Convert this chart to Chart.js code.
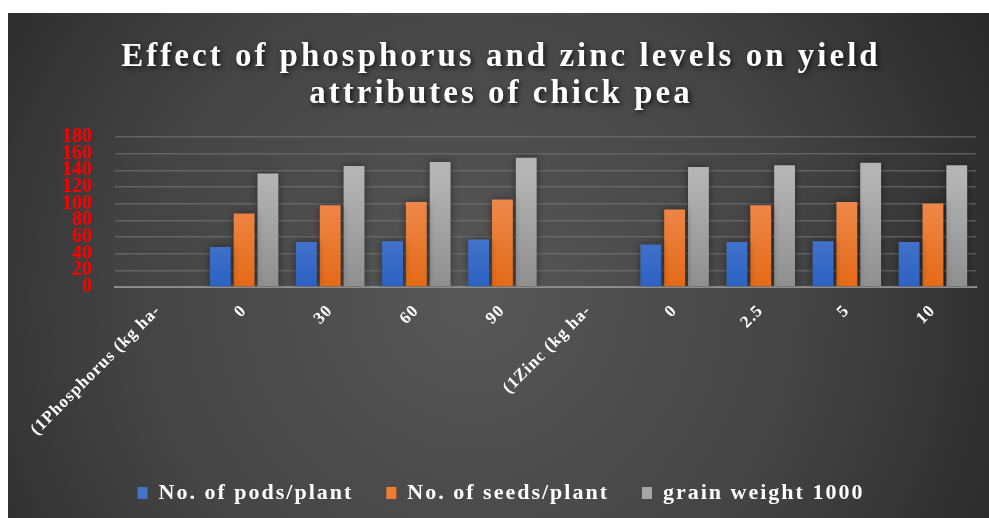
<!DOCTYPE html>
<html>
<head>
<meta charset="utf-8">
<script src="https://cdn.jsdelivr.net/npm/chart.js@4"></script>
<style>
html,body{margin:0;padding:0;background:#fff;}
#wrap{position:relative;width:989px;height:518px;}
</style>
</head>
<body>
<div id="wrap"><canvas id="c" width="989" height="518"></canvas></div>
<script>
const categories = ["(1Phosphorus (kg ha-", "0", "30", "60", "90", "(1Zinc (kg ha-", "0", "2.5", "5", "10"];
const podsPerPlant = [null, 48, 54, 55, 57, null, 51, 54, 55, 54];
const seedsPerPlant = [null, 88, 98, 102, 105, null, 93, 98, 102, 100];
const grainWeight1000 = [null, 136, 145, 150, 155, null, 144, 146, 149, 146];
const seriesNames = ["No. of pods/plant", "No. of seeds/plant", "grain weight 1000"];
const titleLines = ["Effect of phosphorus and zinc levels on yield", "attributes of chick pea"];

const SERIF = '"Liberation Serif", "Times New Roman", serif';

function grad(top, bottom) {
  return function (ctx) {
    const ch = ctx.chart;
    const a = ch.chartArea;
    if (!a) return bottom;
    const g = ch.ctx.createLinearGradient(0, a.top + 40, 0, a.bottom);
    g.addColorStop(0, top);
    g.addColorStop(1, bottom);
    return g;
  };
}

function patchDraw(chart, box, spacing, shadow) {
  if (!box || box._patched) return;
  const orig = box.draw.bind(box);
  box.draw = function (...args) {
    const cx = chart.ctx;
    cx.save();
    cx.letterSpacing = spacing;
    if (shadow) {
      cx.shadowColor = 'rgba(0,0,0,0.7)';
      cx.shadowBlur = 5;
      cx.shadowOffsetX = 2;
      cx.shadowOffsetY = 2;
    }
    orig(...args);
    cx.restore();
    cx.letterSpacing = '2px';
  };
  box._patched = true;
}

const bgPlugin = {
  id: 'bg',
  beforeUpdate(chart) {
    chart.ctx.letterSpacing = '2px';
  },
  beforeLayout(chart) {
    chart.ctx.letterSpacing = '2px';
    patchDraw(chart, chart.scales.x, '1px', false);
    patchDraw(chart, chart.scales.y, '0px', false);
  },
  beforeDraw(chart) {
    const c = chart.ctx;
    c.letterSpacing = '2px';
    patchDraw(chart, chart.titleBlock, '3px', true);
    c.save();
    const x0 = 8, y0 = 13, w = chart.width - 8, h = chart.height - 13;
    const g = c.createRadialGradient(470, 300, 10, 470, 300, 620);
    g.addColorStop(0, '#575757');
    g.addColorStop(0.55, '#434343');
    g.addColorStop(1, '#262626');
    c.fillStyle = g;
    c.fillRect(x0, y0, w, h);
    c.restore();
  }
};

const shadowPlugin = {
  id: 'barShadow',
  beforeDatasetsDraw(chart) {
    const c = chart.ctx;
    c.save();
    c.shadowColor = 'rgba(0,0,0,0.45)';
    c.shadowBlur = 8;
    c.shadowOffsetX = 0;
    c.shadowOffsetY = 0;
  },
  afterDatasetsDraw(chart) {
    chart.ctx.restore();
  }
};

new Chart(document.getElementById('c'), {
  type: 'bar',
  data: {
    labels: categories,
    datasets: [
      { label: seriesNames[0], data: podsPerPlant, backgroundColor: grad('#5f88d6', '#2d62c2') },
      { label: seriesNames[1], data: seedsPerPlant, backgroundColor: grad('#f29059', '#e46a16') },
      { label: seriesNames[2], data: grainWeight1000, backgroundColor: grad('#b4b4b4', '#8f8f8f') }
    ]
  },
  options: {
    responsive: false,
    animation: false,
    devicePixelRatio: 1,
    categoryPercentage: 0.83,
    barPercentage: 0.875,
    layout: { padding: { left: 26, right: 13, top: 22, bottom: 4 } },
    plugins: {
      title: {
        display: true,
        text: titleLines,
        color: '#ffffff',
        font: { family: SERIF, size: 33, weight: 'bold', lineHeight: 1.15 },
        padding: { top: 16, bottom: 23 }
      },
      legend: {
        position: 'bottom',
        labels: {
          color: '#ffffff',
          font: { family: SERIF, size: 22, weight: 'bold' },
          boxWidth: 10,
          boxHeight: 12,
          padding: 33,
          generateLabels(chart) {
            const cols = ['#4472c4', '#ed7d31', '#a5a5a5'];
            return chart.data.datasets.map((d, i) => ({
              text: d.label, fillStyle: cols[i], strokeStyle: cols[i], lineWidth: 0,
              fontColor: '#ffffff', datasetIndex: i, hidden: false
            }));
          }
        }
      },
      tooltip: { enabled: false }
    },
    scales: {
      x: {
        grid: { display: false, drawTicks: false },
        border: { display: true, color: '#9a9a9a', width: 2 },
        afterFit(s) { s.height = 162; },
        ticks: {
          color: '#ffffff',
          font: { family: SERIF, size: 17, weight: 'bold' },
          maxRotation: 45,
          minRotation: 45,
          padding: 14,
          autoSkip: false
        }
      },
      y: {
        min: 0,
        max: 180,
        grid: { color: 'rgba(120,120,120,0.6)', lineWidth: 1.5, drawTicks: false },
        border: { display: false },
        afterFit(s) { s.width = 84; },
        ticks: {
          stepSize: 20,
          color: '#ff0000',
          font: { family: SERIF, size: 20, weight: 'bold', lineHeight: 0.9 },
          padding: 23,
          autoSkip: false
        }
      }
    }
  },
  plugins: [bgPlugin, shadowPlugin]
});
</script>
</body>
</html>
